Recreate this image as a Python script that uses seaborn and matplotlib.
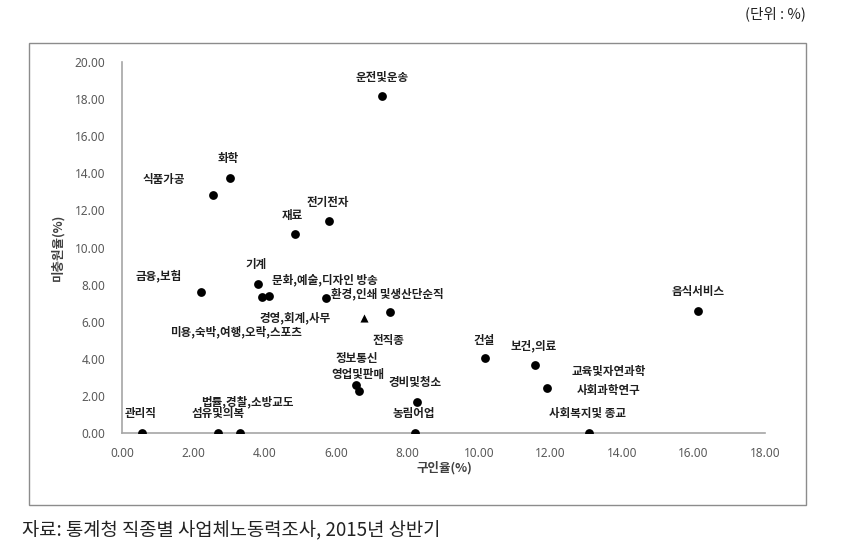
import matplotlib
matplotlib.use("Agg")
import matplotlib.pyplot as plt
import seaborn as sns
import pandas as pd
from matplotlib.patches import Rectangle

# ---- data ----
occupations = ["관리직", "섬유및의복", "법률,경찰,소방교도", "농림어업", "사회복지및 종교",
               "금융,보험", "식품가공", "화학", "기계", "미용,숙박,여행,오락,스포츠",
               "경영,회계,사무", "문화,예술,디자인 방송", "환경,인쇄 및생산단순직", "재료",
               "전기전자", "운전및운송", "정보통신", "영업및판매", "경비및청소", "건설",
               "보건,의료", "교육및자연과학\n사회과학연구", "음식서비스"]
job_offer_rate = [0.57, 2.70, 3.31, 8.21, 13.06,
                  2.21, 2.54, 3.01, 3.80, 3.91,
                  4.12, 5.71, 7.51, 4.83,
                  5.79, 7.29, 6.55, 6.64, 8.27, 10.17,
                  11.57, 11.91, 16.13]
unfilled_rate = [0.0, 0.0, 0.0, 0.0, 0.0,
                 7.60, 12.85, 13.76, 8.05, 7.33,
                 7.37, 7.26, 6.52, 10.71,
                 11.43, 18.15, 2.59, 2.26, 1.69, 4.03,
                 3.67, 2.44, 6.56]
total_name = ["전직종"]
total_x = [6.78]
total_y = [6.18]

# label offsets (pixels) - styling only
label_dx = [-1.5, 0, 7.5, -1.5, -1.3,
            -42, -49, -1.6, -2, -26,
            26, -1.5, -2.5, -2,
            -1, 0, 1, -1, -2, -1.5,
            -1.5, 61.5, 0]
label_dy = [19, 19, 31.3, 19, 19,
            16, 15.4, 19.4, 18.7, -34.7,
            -22, 18.3, 18.7, 19.3,
            18.3, 18.6, 26, 17, 19.4, 17.6,
            19, 6.7, 19.6]
total_dx = [24]
total_dy = [-21.7]

x_ticks = [0, 2, 4, 6, 8, 10, 12, 14, 16, 18]
y_ticks = [0, 2, 4, 6, 8, 10, 12, 14, 16, 18, 20]

df = pd.DataFrame({"occ": occupations, "x": job_offer_rate, "y": unfilled_rate})
df_total = pd.DataFrame({"occ": total_name, "x": total_x, "y": total_y})

sns.set_style("white")
plt.rcParams["font.family"] = ["Noto Sans CJK KR", "DejaVu Sans"]

W, H = 866, 555
fig = plt.figure(figsize=(W / 100, H / 100), dpi=100)
ax = fig.add_axes([122 / W, 1 - 433 / H, (765 - 122) / W, (433 - 62) / H])

sns.scatterplot(data=df, x="x", y="y", ax=ax, color="black", s=40,
                marker="o", edgecolor="black", linewidth=0, legend=False, zorder=3)
sns.scatterplot(data=df_total, x="x", y="y", ax=ax, color="black", s=34,
                marker="^", edgecolor="black", linewidth=0, legend=False, zorder=3)

lab_kw = dict(textcoords="offset pixels", ha="center", va="center",
              fontsize=8.3, fontweight="bold", color="#1f1f1f",
              annotation_clip=False)
for name, xv, yv, dx, dy in zip(occupations, job_offer_rate, unfilled_rate, label_dx, label_dy):
    ax.annotate(name, (xv, yv), xytext=(dx, dy), linespacing=1.55, **lab_kw)
for name, xv, yv, dx, dy in zip(total_name, total_x, total_y, total_dx, total_dy):
    ax.annotate(name, (xv, yv), xytext=(dx, dy), **lab_kw)

ax.set_xlim(0, 18)
ax.set_ylim(0, 20)
ax.set_xticks(x_ticks)
ax.set_yticks(y_ticks)
ax.set_xticklabels([f"{v:.2f}" for v in x_ticks])
ax.set_yticklabels([f"{v:.2f}" for v in y_ticks])
ax.tick_params(axis="both", length=0, labelsize=8.5, labelcolor="#595959")
ax.tick_params(axis="x", pad=10)
ax.tick_params(axis="y", pad=12)
for lbl in ax.get_xticklabels() + ax.get_yticklabels():
    lbl.set_family(["Noto Sans", "DejaVu Sans"])

for side in ["top", "right"]:
    ax.spines[side].set_visible(False)
for side in ["left", "bottom"]:
    ax.spines[side].set_color("#a6a6a6")
    ax.spines[side].set_linewidth(1.2)
ax.grid(False)
ax.set_xlabel("")
ax.set_ylabel("")
ax.patch.set_alpha(0)

fig.text(444 / W, 1 - 468 / H, "구인율(%)", ha="center", va="center",
         fontsize=9, fontweight="bold", color="#404040")
fig.text(58 / W, 1 - 247 / H, "미충원율(%)", ha="center", va="center",
         rotation=90, fontsize=9, fontweight="bold", color="#404040")

# chart border
fig.patches.append(Rectangle((29 / W, 1 - 505 / H), (806 - 29) / W, (505 - 43) / H,
                             transform=fig.transFigure, fill=False,
                             edgecolor="#8c8c8c", linewidth=1.0, zorder=0))

fig.text(806 / W, 1 - 14 / H, "(단위 : %)", ha="right", va="center",
         fontsize=10.5, color="#222222")
fig.text(22 / W, 1 - 531 / H, "자료: 통계청 직종별 사업체노동력조사, 2015년 상반기",
         ha="left", va="center", fontsize=13.5, color="#222222")

fig.savefig("out.png", dpi=100)
